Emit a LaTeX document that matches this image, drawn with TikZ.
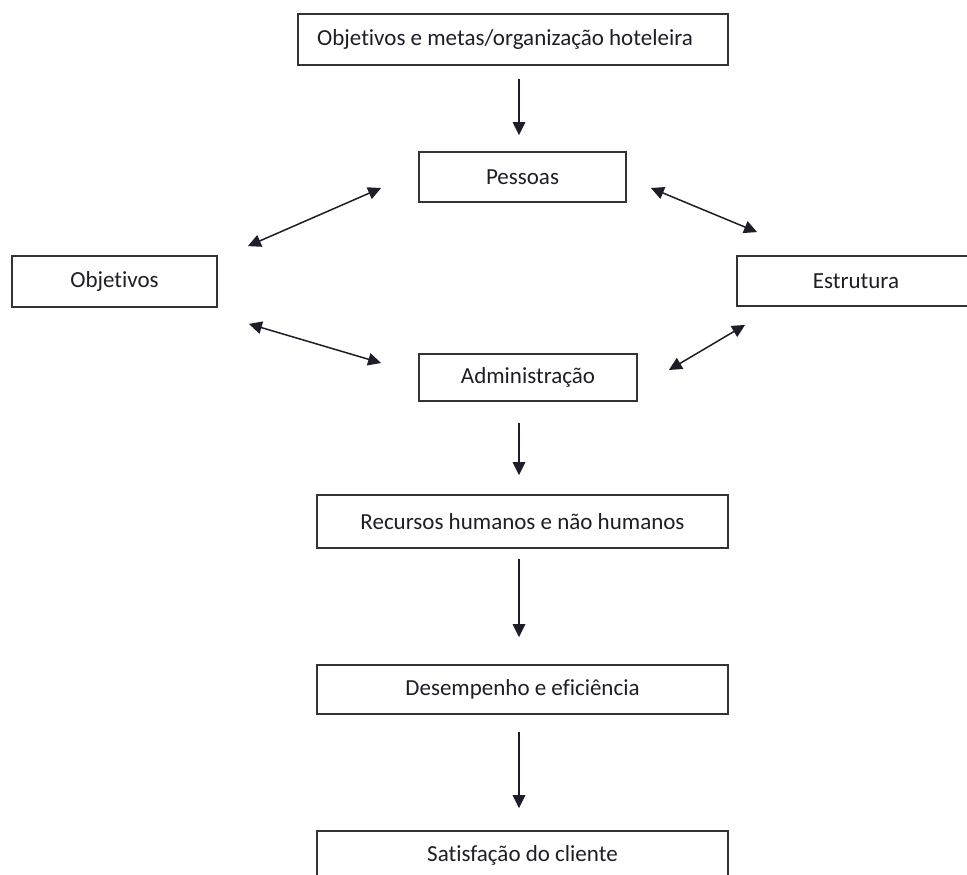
\documentclass[tikz,border=0pt]{standalone}
\usepackage{fontspec}
\setmainfont{Carlito}[Ligatures={NoCommon}]
\usetikzlibrary{arrows.meta}
\definecolor{boxline}{HTML}{333333}
\definecolor{ink}{HTML}{1E1E28}
\tikzset{
  stagebox/.style={draw=boxline, line width=1.8pt, rectangle, inner sep=0pt,
    text=ink, font=\fontsize{23}{27}\selectfont},
  flow/.style={draw=ink, line width=1.5pt,
    -{Triangle[length=13pt,width=12.5pt]}},
  both/.style={draw=ink, line width=1.5pt,
    {Triangle[length=13pt,width=12.5pt]}-{Triangle[length=13pt,width=12.5pt]}},
}
\begin{document}
\begin{tikzpicture}[x=1pt,y=-1pt]
  \useasboundingbox (0,0) rectangle (967,875);
  \clip (0,0) rectangle (967,875);
  \fill[white] (0,0) rectangle (967,875);

  % stages of the model
  \node[stagebox, minimum width=430pt, minimum height=51pt] (top) at (513,39.5)
    {\hspace*{-16pt}Objetivos e metas/organização hoteleira};
  \node[stagebox, minimum width=207pt, minimum height=50pt] (pessoas) at (522.5,177) {Pessoas};
  \node[stagebox, minimum width=205pt, minimum height=51pt] (objetivos) at (114.5,281.5) {Objetivos};
  \node[stagebox, minimum width=238pt, minimum height=50pt] (estrutura) at (856,281) {Estrutura};
  \node[stagebox, minimum width=218pt, minimum height=47pt] (admin) at (528,377.5) {Administração};
  \node[stagebox, minimum width=411pt, minimum height=53pt] (recursos) at (522.5,521.5)
    {Recursos humanos e não humanos};
  \node[stagebox, minimum width=411pt, minimum height=49pt] (desempenho) at (522.5,689.5)
    {Desempenho e eficiência};
  \node[stagebox, minimum width=411pt, minimum height=49pt, text depth=0pt] (satisfacao) at (522.5,855.5)
    {\raisebox{3pt}{Satisfação do cliente}};

  % vertical flow axis
  \coordinate (colx) at (519,0);

  \draw[flow, shorten <=13pt, shorten >=16pt] (top.south -| colx) -- (pessoas.north -| colx);
  \draw[flow, shorten <=21pt, shorten >=19pt] (admin.south -| colx) -- (recursos.north -| colx);
  \draw[flow, shorten <=10pt, shorten >=27pt] (recursos.south -| colx) -- (desempenho.north -| colx);
  \draw[flow, shorten <=17pt, shorten >=22pt] (desempenho.south -| colx) -- (satisfacao.north -| colx);

  % two-way links around the core
  \draw[both] ([shift={(30,-9)}]objetivos.north east) -- ([shift={(-37,11)}]pessoas.west);
  \draw[both] ([shift={(24,11)}]pessoas.east) -- ([shift={(21,-23)}]estrutura.north west);
  \draw[both] ([shift={(31,16)}]objetivos.south east) -- ([shift={(-37,-14.5)}]admin.west);
  \draw[both] ([shift={(9,18)}]estrutura.south west) -- ([shift={(31,-7.5)}]admin.east);
\end{tikzpicture}
\end{document}
